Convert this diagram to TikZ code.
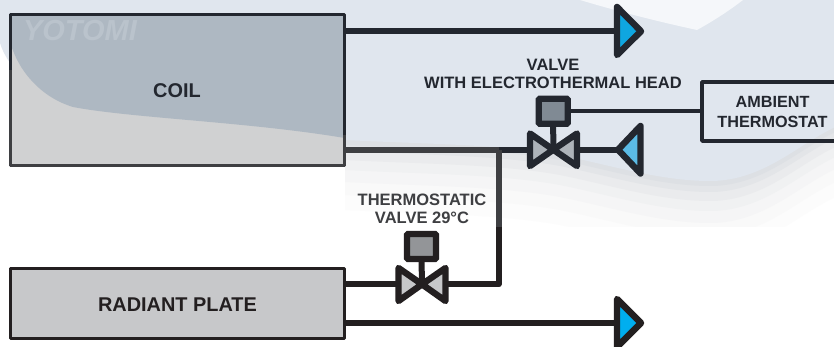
\documentclass[tikz,border=0pt]{standalone}
\usepackage{fontspec}
\setmainfont{Liberation Sans}
\definecolor{bgblue}{HTML}{E0E6EE}
\definecolor{bghi}{HTML}{F5F7FA}
\definecolor{ink}{HTML}{23272F}
\definecolor{inkgrey}{HTML}{3E3F42}
\definecolor{inkblack}{HTML}{231F20}
\definecolor{coilfill}{HTML}{D0D1D2}
\definecolor{coilblue}{HTML}{AEB8C2}
\definecolor{logo}{HTML}{BAC3CC}
\definecolor{platefill}{HTML}{C7C8CA}
\definecolor{headfill}{HTML}{808A94}
\definecolor{headfillb}{HTML}{939598}
\definecolor{valvefill}{HTML}{ADB3B9}
\definecolor{valvefillb}{HTML}{C7C8CA}
\definecolor{outblue}{HTML}{0FA6E0}
\definecolor{outblueb}{HTML}{00AEEF}
\definecolor{inblue}{HTML}{5BBBE6}
\newcommand{\skyedge}{(345,140) .. controls (420,144) and (500,144) .. (560,155) .. controls (610,165) and (660,181) .. (710,181) .. controls (750,181) and (780,160) .. (807,143) .. controls (820,135) and (828,130) .. (850,120)}
\tikzset{
  x=1pt,y=-1pt,
  pipe/.style={draw=#1,line width=6pt,line join=round},
  pipe/.default=ink,
  tank/.style={draw=#1,line width=3.8pt,rectangle,inner sep=0pt,outer sep=0pt,line join=round,anchor=north west},
  headbox/.style={draw=#1,line width=6.2pt,rounded corners=1pt,minimum width=29pt,minimum height=25pt,inner sep=0pt,outer sep=0pt},
  tip/.style={draw=#1,line width=6.4pt,line join=round},
  lab/.style={font=\fontsize{16.5}{17.5}\selectfont\bfseries,align=center,text=ink,inner sep=0pt},
  biglab/.style={font=\fontsize{19.9}{21}\selectfont\bfseries,text=ink,inner sep=0pt},
}
\begin{document}
\begin{tikzpicture}
\useasboundingbox (0,0) rectangle (834,347);
% background
\fill[white] (0,0) rectangle (834,347);
\foreach \d/\c in {70/FCFCFC,55/F9F9F9,42/F5F5F6,30/F0F1F2,20/EAEBED,11/E3E5E8,5/DDE0E4}{
  \definecolor{bandc}{HTML}{\c}
  \fill[bandc,shift={(0,\d)}] \skyedge -- (850,0) -- (345,0) -- cycle;
}
\fill[white] (0,227) rectangle (850,347);
\fill[bgblue] \skyedge -- (850,-5) -- (0,-5) -- (0,43) .. controls (8,70) and (40,97) .. (73,107) .. controls (130,118) and (250,122) .. (345,140) -- cycle;
\fill[bghi] (580,0) .. controls (620,12) and (660,22) .. (697,30) .. controls (715,20) and (730,10) .. (743,0) -- cycle;
% tanks
\fill[coilfill] (10.5,14.5) rectangle (344.5,165.5);
\fill[coilblue] (10.5,43) .. controls (18,70) and (40,97) .. (73,107) .. controls (130,118) and (250,122) .. (344.5,138) -- (344.5,14.5) -- (10.5,14.5) -- cycle;
\node[text=logo,font=\fontsize{29}{29}\selectfont\bfseries\itshape,inner sep=0pt] at (80,31) {YOTOMI};
\node[tank=ink,minimum width=334pt,minimum height=151pt] (coil) at (10.5,14.5) {};
\draw[inkgrey,line width=3.8pt,line join=round] (10.5,70) -- (10.5,165.5) -- (344.5,165.5) -- (344.5,135);
\node[biglab] at (177,91) {COIL};
\node[tank=inkblack,fill=platefill,minimum width=334pt,minimum height=70pt] (plate) at (10.5,268.5) {};
\node[biglab,text=inkblack] at (177.5,304.5) {RADIANT PLATE};
\node[tank=ink,minimum width=160pt,minimum height=59pt] (amb) at (702,82) {};
\node[lab,font=\fontsize{16.2}{20}\selectfont\bfseries] at (772.5,111.7) {AMBIENT\\THERMOSTAT};
\node[lab] at (553,74) {VALVE\\WITH ELECTROTHERMAL HEAD};
\node[lab,text=inkgrey] at (422,209) {THERMOSTATIC\\VALVE 29°C};
% named anchor points
\coordinate (v1) at (553.3,149.7);
\coordinate (v2) at (422,284.3);
\coordinate (t1) at (617,31.3);
\coordinate (t2) at (617,323);
\coordinate (t3) at (619,149.7);
\coordinate (j) at (498.7,149.7);
\coordinate (fade) at (498.7,227);
\coordinate (c1) at (498.7,284.3);
\coordinate (top) at (346,31.3);
\coordinate (ret) at (346,149.7);
\coordinate (p1) at (346,284.3);
\coordinate (p2) at (346,323);
% pipes
\draw[pipe] (top) -- (t1);
\draw[pipe=inkgrey] (ret) -- (j);
\draw[pipe] (j) -- (v1) -- (t3);
\draw[pipe=inkblack] (p2) -- (t2);
\draw[pipe=inkblack] (p1) -- (c1) -- (fade);
\draw[pipe=inkgrey] (fade) -- (j);
% outlet tips
\filldraw[tip=ink,fill=outblue] (617,7) -- (641,31.3) -- (617,55) -- cycle;
\filldraw[tip=inkblack,fill=outblueb] (617,299) -- (641,323) -- (617,347) -- cycle;
\filldraw[tip=ink,fill=inblue] (640.5,126) -- (618,149.7) -- (640.5,173.5) -- cycle;
% valve 1
\node[headbox=ink,fill=headfill] (h1) at (553.2,111.3) {};
\draw[pipe] (h1.south) -- (v1);
\draw[ink,line width=4pt] (h1.east) -- (amb.west |- h1.east);
\filldraw[tip=ink,fill=valvefill] (530,133.5) -- (v1) -- (530,166) -- cycle;
\filldraw[tip=ink,fill=valvefill] (577,133.5) -- (v1) -- (577,166) -- cycle;
% valve 2
\node[headbox=inkblack,fill=headfillb] (h2) at (421.5,246.5) {};
\draw[pipe=inkblack] (h2.south) -- (v2);
\filldraw[tip=inkblack,fill=valvefillb] (398.5,268) -- (v2) -- (398.5,301) -- cycle;
\filldraw[tip=inkblack,fill=valvefillb] (445.5,268) -- (v2) -- (445.5,301) -- cycle;
\end{tikzpicture}
\end{document}
